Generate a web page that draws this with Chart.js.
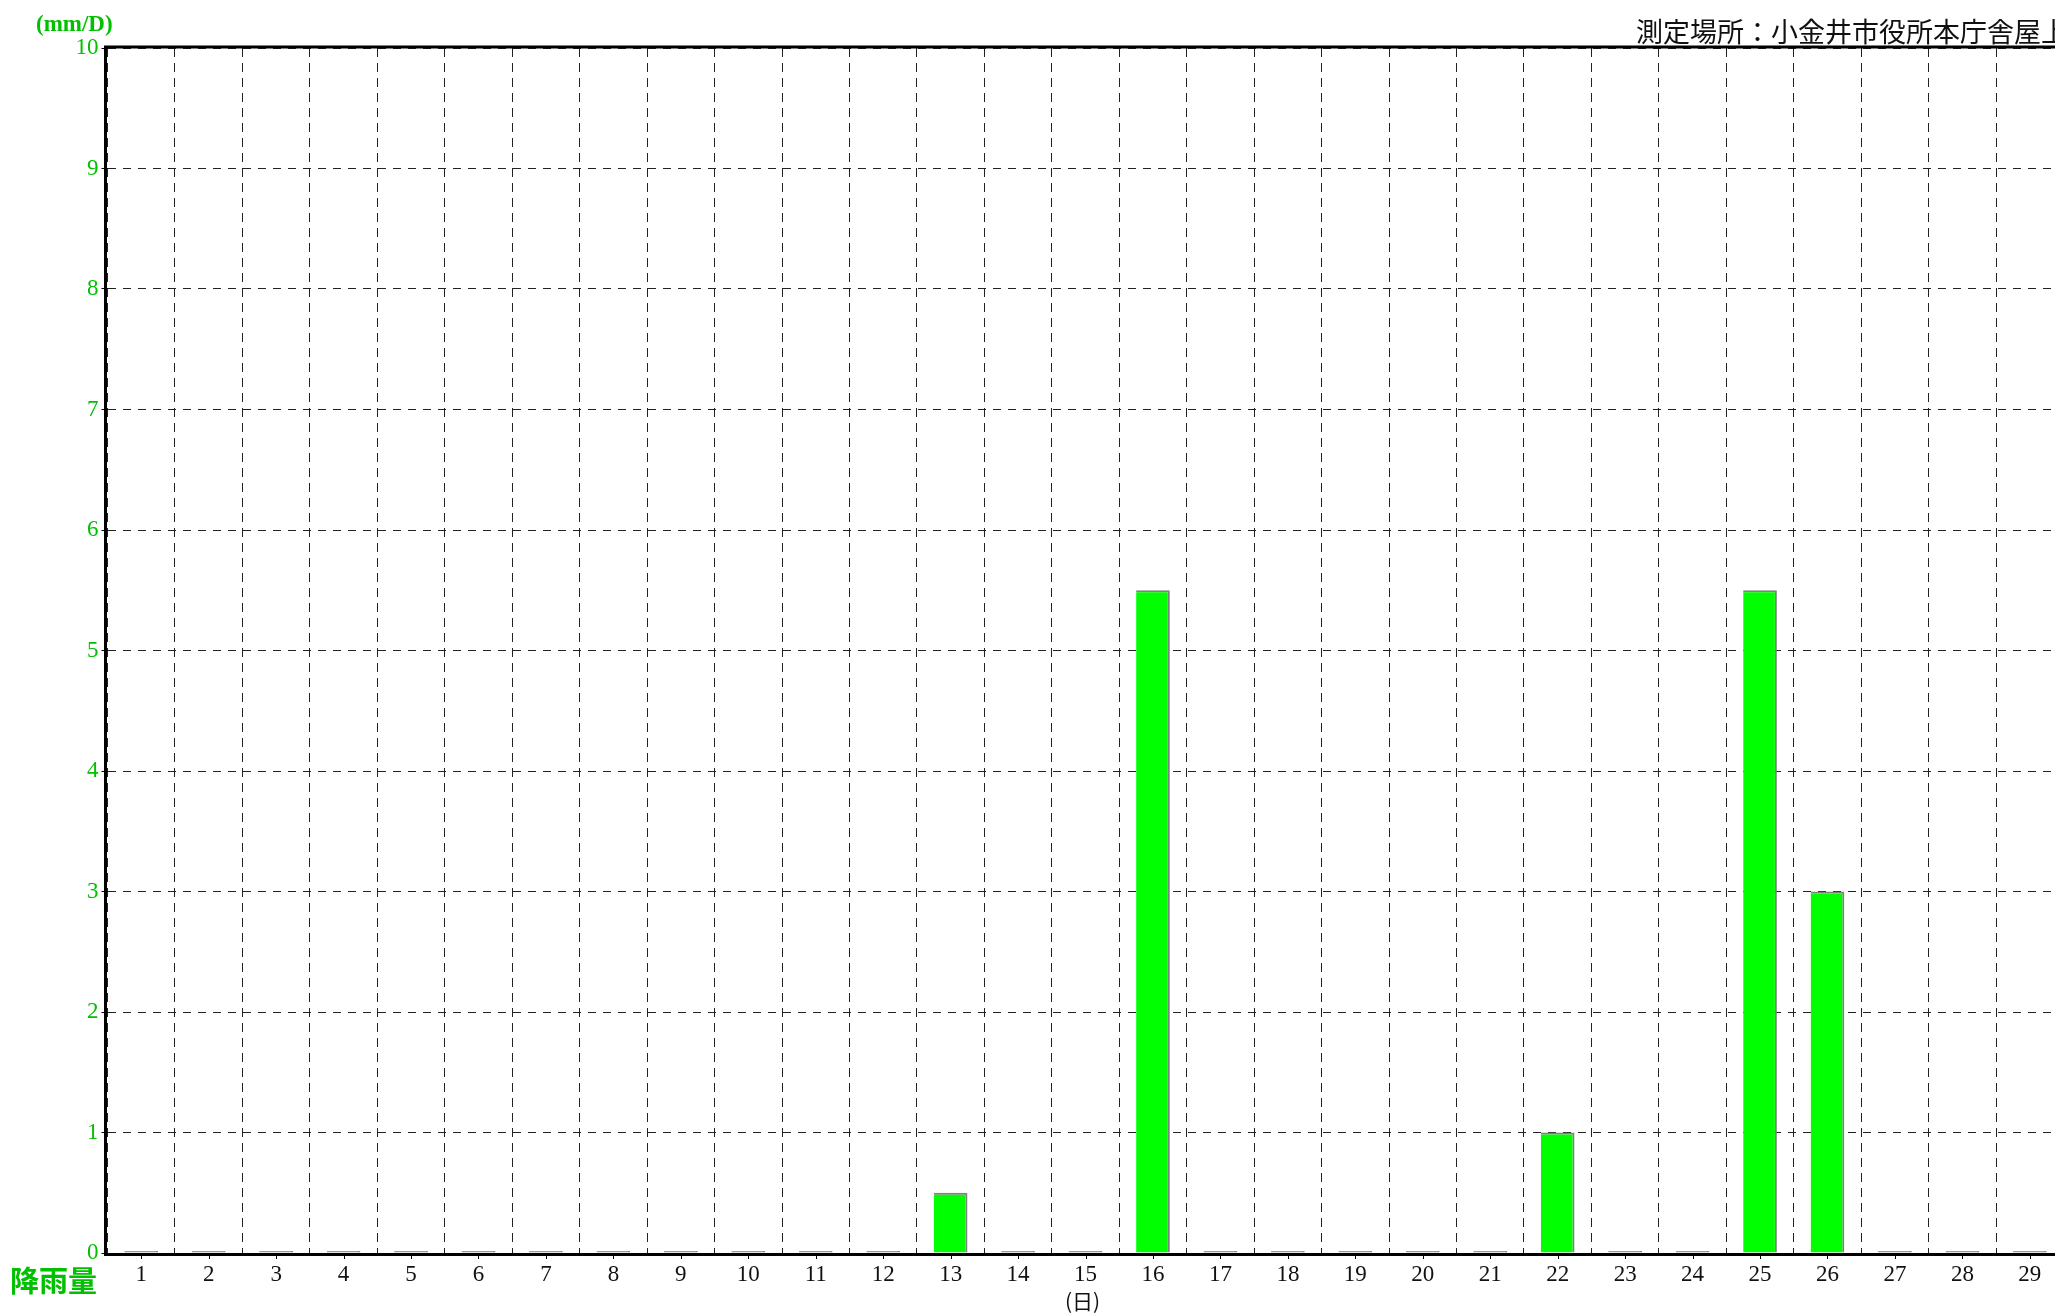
<!DOCTYPE html>
<html><head><meta charset="utf-8">
<script src="https://cdn.jsdelivr.net/npm/chart.js@4.4.1/dist/chart.umd.min.js"></script>
<style>
html,body{margin:0;padding:0;background:#fff;width:2055px;height:1313px;overflow:hidden;position:relative}
#wrap{position:absolute;left:0;top:0;width:2160px;height:1313px}
.lbl{position:absolute;white-space:nowrap;line-height:1}
</style></head>
<body>
<div id="wrap"><canvas id="c" width="2160" height="1313"></canvas></div>
<div class="lbl" id="unit" style="left:36px;top:11px;font:bold 23px 'Liberation Serif',serif;color:#00c000">(mm/D)</div>
<div class="lbl" id="place" style="left:1636px;top:11px;font:27px 'Noto Sans CJK JP',sans-serif;color:#111">測定場所：小金井市役所本庁舎屋上</div>
<div class="lbl" id="ylab" style="left:10px;top:1258px;font:bold 29px 'Noto Sans CJK JP',sans-serif;color:#00c000">降雨量</div>
<div class="lbl" id="xlab" style="left:1065px;top:1285px;font:21px 'Noto Sans CJK JP',serif;color:#111">(日)</div>
<script>
const days = ['1','2','3','4','5','6','7','8','9','10','11','12','13','14','15','16','17','18','19','20','21','22','23','24','25','26','27','28','29','30'];
const rainfall = [0,0,0,0,0,0,0,0,0,0,0,0,0.5,0,0,5.5,0,0,0,0,0,1,0,0,5.5,3,0,0,0,0];
const yMin = 0, yMax = 10, yStep = 1;

const GREEN_TEXT = '#00c000';
const framePlugin = {
  id: 'frame',
  afterDatasetsDraw(chart) {
    const {ctx, chartArea: a, scales: {x}} = chart;
    ctx.save();
    ctx.strokeStyle = '#000';
    ctx.lineWidth = 1;
    ctx.beginPath();
    for (let i = 0; i < days.length; i++) {
      const px = Math.round(x.getPixelForValue(i)) + 0.5;
      ctx.moveTo(px, a.bottom); ctx.lineTo(px, a.bottom + 6);
    }
    ctx.stroke();
    ctx.lineWidth = 3;
    ctx.beginPath();
    ctx.moveTo(a.left - 2, a.top - 1);
    ctx.lineTo(a.right + 10, a.top - 1);
    ctx.moveTo(a.left - 2, a.top - 2.5);
    ctx.lineTo(a.left - 2, a.bottom + 3);
    ctx.moveTo(a.left - 3.5, a.bottom + 1.5);
    ctx.lineTo(a.right + 10, a.bottom + 1.5);
    ctx.stroke();
    ctx.restore();
  }
};

new Chart(document.getElementById('c'), {
  type: 'bar',
  data: {
    labels: days,
    datasets: [{
      data: rainfall,
      backgroundColor: c => (c.raw === 0 ? '#8a8a8a' : '#00ff00'),
      borderColor: '#808080',
      borderWidth: {top: 2, right: 2, left: 0, bottom: 0},
      borderSkipped: false,
      barPercentage: 1,
      categoryPercentage: 0.5,
      minBarLength: 2
    }]
  },
  options: {
    responsive: false,
    animation: false,
    devicePixelRatio: 1,
    layout: {padding: {top: 48, right: 29, left: 0, bottom: 0}},
    plugins: {legend: {display: false}, tooltip: {enabled: false}},
    scales: {
      x: {
        offset: true,
        grid: {offset: true, color: '#222', lineWidth: 1, drawTicks: false},
        border: {display: false, dash: [9, 6]},
        ticks: {color: '#111', font: {family: "'Liberation Serif', serif", size: 23}, padding: 8, maxRotation: 0, autoSkip: false},
        afterFit: s => { s.height = 60; }
      },
      y: {
        min: yMin, max: yMax,
        grid: {color: '#222', lineWidth: 1, drawTicks: true, tickLength: 6, tickColor: '#000'},
        border: {display: false, dash: [8, 7]},
        ticks: {stepSize: yStep, color: GREEN_TEXT, font: {family: "'Liberation Serif', serif", size: 23}, padding: 3},
        afterFit: s => { s.width = 107.5; }
      }
    }
  },
  plugins: [framePlugin]
});
</script>
</body></html>
